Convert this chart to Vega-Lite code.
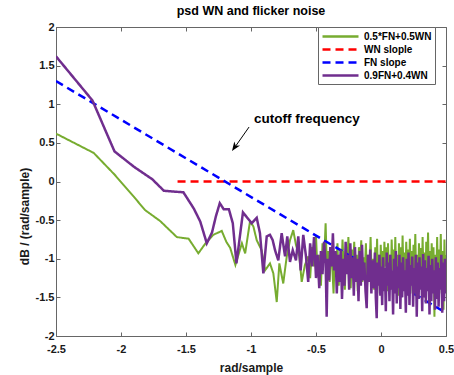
{
  "$schema": "https://vega.github.io/schema/vega-lite/v6.json",
  "width": 390,
  "height": 309,
  "autosize": "none",
  "padding": {"left": 56, "top": 27, "right": 8, "bottom": 39},
  "background": "white",
  "title": {"text": "psd WN and flicker noise", "font": "Liberation Sans", "fontSize": 12.5, "fontWeight": "bold", "color": "#000000", "offset": 4},
  "config": {
    "view": {"stroke": "#666666", "strokeWidth": 1},
    "axis": {"labelFont": "Liberation Sans", "labelFontSize": 11, "labelFontWeight": "bold", "labelColor": "#1a1a1a", "titleFont": "Liberation Sans", "titleFontSize": 12, "titleFontWeight": "bold", "titleColor": "#1a1a1a", "tickColor": "#666666", "domain": false, "grid": false, "tickSize": -4},
    "legend": {"labelFont": "Liberation Sans", "labelFontSize": 10, "labelFontWeight": "bold", "labelColor": "#000000"}
  },
  "datasets": {
    "g": [
      {"x": -2.5, "y": 0.62}, {"x": -2.21, "y": 0.37}, {"x": -2.05, "y": 0.09}, {"x": -1.9, "y": -0.2}, {"x": -1.815, "y": -0.37}, {"x": -1.7, "y": -0.51}, {"x": -1.57, "y": -0.72}, {"x": -1.48, "y": -0.74}, {"x": -1.405, "y": -0.93}, {"x": -1.354, "y": -0.81}, {"x": -1.29, "y": -0.69}, {"x": -1.225, "y": -0.64}, {"x": -1.19, "y": -0.78}, {"x": -1.16, "y": -0.86}, {"x": -1.12, "y": -1.08}, {"x": -1.07, "y": -0.8}, {"x": -1.045, "y": -0.93}, {"x": -1.008, "y": -0.52}, {"x": -0.982, "y": -0.58}, {"x": -0.956, "y": -0.76}, {"x": -0.918, "y": -0.89}, {"x": -0.892, "y": -1.15}, {"x": -0.854, "y": -1.06}, {"x": -0.828, "y": -1.19}, {"x": -0.802, "y": -1.56}, {"x": -0.782, "y": -1.06}, {"x": -0.752, "y": -1.32}, {"x": -0.725, "y": -0.97}, {"x": -0.7, "y": -0.76}, {"x": -0.675, "y": -0.63}, {"x": -0.654, "y": -0.82}, {"x": -0.628, "y": -0.97}, {"x": -0.61, "y": -1.3}, {"x": -0.585, "y": -1.08}, {"x": -0.559, "y": -0.97},
      {"x": -0.545, "y": -1.25}, {"x": -0.53, "y": -0.85}, {"x": -0.515, "y": -1.1}, {"x": -0.5, "y": -0.7}, {"x": -0.488, "y": -1.2}, {"x": -0.475, "y": -0.95}, {"x": -0.462, "y": -1.35}, {"x": -0.45, "y": -0.8}, {"x": -0.438, "y": -1.05}, {"x": -0.426, "y": -0.54}, {"x": -0.416, "y": -1.15}, {"x": -0.405, "y": -0.9}, {"x": -0.395, "y": -1.3}, {"x": -0.385, "y": -0.85}, {"x": -0.375, "y": -1.1}, {"x": -0.365, "y": -1.45}, {"x": -0.355, "y": -0.95}, {"x": -0.345, "y": -1.2}, {"x": -0.335, "y": -0.8}, {"x": -0.325, "y": -1.35}, {"x": -0.315, "y": -0.95}, {"x": -0.305, "y": -1.2}, {"x": -0.296, "y": -0.75}, {"x": -0.287, "y": -1.1}, {"x": -0.278, "y": -1.4}, {"x": -0.269, "y": -0.9}, {"x": -0.26, "y": -1.18}, {"x": -0.251, "y": -0.72}, {"x": -0.242, "y": -1.05}, {"x": -0.233, "y": -1.38}, {"x": -0.224, "y": -0.88}, {"x": -0.215, "y": -1.15}, {"x": -0.206, "y": -0.78}, {"x": -0.197, "y": -1.25}, {"x": -0.188, "y": -0.95}, {"x": -0.179, "y": -1.42}, {"x": -0.17, "y": -0.85}, {"x": -0.161, "y": -1.1}, {"x": -0.152, "y": -0.76}, {"x": -0.143, "y": -1.3}, {"x": -0.134, "y": -0.98}, {"x": -0.125, "y": -1.2}, {"x": -0.116, "y": -0.8}, {"x": -0.107, "y": -1.35}, {"x": -0.098, "y": -0.95}, {"x": -0.089, "y": -1.15}, {"x": -0.08, "y": -0.72}, {"x": -0.071, "y": -1.28}, {"x": -0.062, "y": -1.0}, {"x": -0.053, "y": -1.4}, {"x": -0.044, "y": -0.85}, {"x": -0.037, "y": -1.15}, {"x": -0.03, "y": -0.74}, {"x": -0.023, "y": -1.3}, {"x": -0.016, "y": -0.95}, {"x": -0.009, "y": -1.45}, {"x": -0.002, "y": -0.82}, {"x": 0.005, "y": -1.2}, {"x": 0.012, "y": -0.9}, {"x": 0.019, "y": -1.35}, {"x": 0.026, "y": -0.78}, {"x": 0.033, "y": -1.1}, {"x": 0.04, "y": -0.85}, {"x": 0.047, "y": -1.42}, {"x": 0.054, "y": -0.8}, {"x": 0.061, "y": -1.25}, {"x": 0.068, "y": -0.95}, {"x": 0.075, "y": -1.38}, {"x": 0.082, "y": -0.75}, {"x": 0.089, "y": -1.15}, {"x": 0.096, "y": -0.88}, {"x": 0.103, "y": -1.3}, {"x": 0.11, "y": -0.72}, {"x": 0.117, "y": -1.2}, {"x": 0.124, "y": -0.95}, {"x": 0.131, "y": -1.48}, {"x": 0.138, "y": -0.8}, {"x": 0.145, "y": -1.1}, {"x": 0.152, "y": -0.85}, {"x": 0.159, "y": -1.35}, {"x": 0.166, "y": -0.7}, {"x": 0.173, "y": -1.2}, {"x": 0.18, "y": -0.92}, {"x": 0.187, "y": -1.4}, {"x": 0.194, "y": -0.78}, {"x": 0.201, "y": -1.15}, {"x": 0.208, "y": -0.88}, {"x": 0.215, "y": -1.32}, {"x": 0.222, "y": -0.74}, {"x": 0.229, "y": -1.25}, {"x": 0.236, "y": -0.9}, {"x": 0.243, "y": -1.45}, {"x": 0.25, "y": -0.82}, {"x": 0.257, "y": -1.12}, {"x": 0.264, "y": -0.68}, {"x": 0.271, "y": -1.3}, {"x": 0.278, "y": -0.95}, {"x": 0.285, "y": -1.4}, {"x": 0.292, "y": -0.8}, {"x": 0.299, "y": -1.18}, {"x": 0.306, "y": -0.86}, {"x": 0.313, "y": -1.35}, {"x": 0.32, "y": -0.72}, {"x": 0.327, "y": -1.22}, {"x": 0.334, "y": -0.92}, {"x": 0.341, "y": -1.5}, {"x": 0.348, "y": -0.78}, {"x": 0.355, "y": -1.15}, {"x": 0.362, "y": -0.66}, {"x": 0.369, "y": -1.28}, {"x": 0.376, "y": -0.9}, {"x": 0.383, "y": -1.4}, {"x": 0.39, "y": -0.8}, {"x": 0.397, "y": -1.2}, {"x": 0.404, "y": -0.85}, {"x": 0.411, "y": -1.75}, {"x": 0.418, "y": -0.95}, {"x": 0.425, "y": -1.25}, {"x": 0.432, "y": -0.72}, {"x": 0.439, "y": -1.35}, {"x": 0.446, "y": -0.88}, {"x": 0.453, "y": -1.2}, {"x": 0.46, "y": -0.68}, {"x": 0.467, "y": -1.45}, {"x": 0.474, "y": -0.9}, {"x": 0.481, "y": -1.66}, {"x": 0.488, "y": -0.75}, {"x": 0.495, "y": -1.3}, {"x": 0.5, "y": -0.95}
    ],
    "p": [
      {"x": -2.5, "y": 1.62}, {"x": -2.22, "y": 1.05}, {"x": -2.05, "y": 0.39}, {"x": -1.9, "y": 0.19}, {"x": -1.76, "y": 0.03}, {"x": -1.67, "y": -0.12}, {"x": -1.52, "y": -0.14}, {"x": -1.44, "y": -0.35}, {"x": -1.39, "y": -0.52}, {"x": -1.34, "y": -0.8}, {"x": -1.3, "y": -0.66}, {"x": -1.27, "y": -0.45}, {"x": -1.24, "y": -0.28}, {"x": -1.21, "y": -0.36}, {"x": -1.17, "y": -0.36}, {"x": -1.14, "y": -0.54}, {"x": -1.112, "y": -1.06}, {"x": -1.062, "y": -0.4}, {"x": -1.033, "y": -0.46}, {"x": -0.995, "y": -0.54}, {"x": -0.956, "y": -0.47}, {"x": -0.931, "y": -0.67}, {"x": -0.905, "y": -1.19}, {"x": -0.879, "y": -0.71}, {"x": -0.854, "y": -0.69}, {"x": -0.833, "y": -0.76}, {"x": -0.815, "y": -0.89}, {"x": -0.79, "y": -1.02}, {"x": -0.764, "y": -0.67}, {"x": -0.738, "y": -0.97}, {"x": -0.721, "y": -0.71}, {"x": -0.7, "y": -1.04}, {"x": -0.679, "y": -0.89}, {"x": -0.654, "y": -1.02}, {"x": -0.636, "y": -0.71}, {"x": -0.618, "y": -1.15}, {"x": -0.598, "y": -0.69}, {"x": -0.577, "y": -0.97},
      {"x": -0.56, "y": -1.3}, {"x": -0.545, "y": -0.8}, {"x": -0.53, "y": -1.1}, {"x": -0.515, "y": -0.72}, {"x": -0.5, "y": -1.25}, {"x": -0.488, "y": -0.95}, {"x": -0.475, "y": -1.38}, {"x": -0.462, "y": -0.9}, {"x": -0.45, "y": -1.2}, {"x": -0.438, "y": -0.78}, {"x": -0.426, "y": -1.05}, {"x": -0.418, "y": -1.75}, {"x": -0.41, "y": -1.0}, {"x": -0.4, "y": -1.28}, {"x": -0.39, "y": -0.85}, {"x": -0.38, "y": -1.1}, {"x": -0.37, "y": -0.67}, {"x": -0.36, "y": -1.15}, {"x": -0.35, "y": -0.9}, {"x": -0.34, "y": -1.45}, {"x": -0.33, "y": -0.95}, {"x": -0.32, "y": -1.3}, {"x": -0.31, "y": -0.88}, {"x": -0.3, "y": -1.52}, {"x": -0.29, "y": -1.0}, {"x": -0.281, "y": -1.35}, {"x": -0.272, "y": -0.78}, {"x": -0.263, "y": -1.2}, {"x": -0.254, "y": -0.95}, {"x": -0.245, "y": -1.4}, {"x": -0.236, "y": -0.8}, {"x": -0.227, "y": -1.25}, {"x": -0.218, "y": -0.98}, {"x": -0.209, "y": -1.48}, {"x": -0.2, "y": -0.85}, {"x": -0.191, "y": -1.3}, {"x": -0.182, "y": -1.0}, {"x": -0.173, "y": -1.55}, {"x": -0.164, "y": -0.9}, {"x": -0.155, "y": -1.35}, {"x": -0.146, "y": -0.82}, {"x": -0.137, "y": -1.28}, {"x": -0.128, "y": -1.05}, {"x": -0.119, "y": -1.42}, {"x": -0.11, "y": -1.64}, {"x": -0.101, "y": -0.95}, {"x": -0.092, "y": -1.3}, {"x": -0.083, "y": -0.88}, {"x": -0.074, "y": -1.45}, {"x": -0.065, "y": -1.02}, {"x": -0.056, "y": -1.38}, {"x": -0.047, "y": -0.92}, {"x": -0.04, "y": -1.5}, {"x": -0.033, "y": -1.77}, {"x": -0.026, "y": -1.05}, {"x": -0.019, "y": -1.35}, {"x": -0.012, "y": -0.95}, {"x": -0.005, "y": -1.48}, {"x": 0.002, "y": -1.1}, {"x": 0.009, "y": -1.6}, {"x": 0.016, "y": -0.98}, {"x": 0.023, "y": -1.42}, {"x": 0.03, "y": -1.12}, {"x": 0.037, "y": -1.68}, {"x": 0.044, "y": -0.92}, {"x": 0.051, "y": -1.35}, {"x": 0.058, "y": -1.05}, {"x": 0.065, "y": -1.55}, {"x": 0.072, "y": -0.95}, {"x": 0.079, "y": -1.4}, {"x": 0.086, "y": -1.15}, {"x": 0.093, "y": -1.72}, {"x": 0.1, "y": -1.0}, {"x": 0.107, "y": -1.45}, {"x": 0.114, "y": -0.9}, {"x": 0.121, "y": -1.58}, {"x": 0.128, "y": -1.1}, {"x": 0.135, "y": -1.38}, {"x": 0.142, "y": -0.95}, {"x": 0.149, "y": -1.65}, {"x": 0.156, "y": -1.05}, {"x": 0.163, "y": -1.5}, {"x": 0.17, "y": -0.98}, {"x": 0.177, "y": -1.42}, {"x": 0.184, "y": -1.15}, {"x": 0.191, "y": -1.7}, {"x": 0.198, "y": -1.0}, {"x": 0.205, "y": -1.48}, {"x": 0.212, "y": -0.92}, {"x": 0.219, "y": -1.6}, {"x": 0.226, "y": -1.08}, {"x": 0.233, "y": -1.35}, {"x": 0.24, "y": -0.97}, {"x": 0.247, "y": -1.62}, {"x": 0.254, "y": -1.12}, {"x": 0.261, "y": -1.45}, {"x": 0.268, "y": -0.95}, {"x": 0.275, "y": -1.75}, {"x": 0.282, "y": -1.05}, {"x": 0.289, "y": -1.52}, {"x": 0.296, "y": -0.98}, {"x": 0.303, "y": -1.4}, {"x": 0.31, "y": -1.1}, {"x": 0.317, "y": -1.68}, {"x": 0.324, "y": -0.94}, {"x": 0.331, "y": -1.5}, {"x": 0.338, "y": -1.02}, {"x": 0.345, "y": -1.58}, {"x": 0.352, "y": -1.12}, {"x": 0.359, "y": -1.42}, {"x": 0.366, "y": -0.96}, {"x": 0.373, "y": -1.72}, {"x": 0.38, "y": -1.08}, {"x": 0.387, "y": -1.55}, {"x": 0.394, "y": -1.0}, {"x": 0.401, "y": -1.45}, {"x": 0.408, "y": -1.15}, {"x": 0.415, "y": -1.66}, {"x": 0.422, "y": -0.98}, {"x": 0.429, "y": -1.52}, {"x": 0.436, "y": -1.05}, {"x": 0.443, "y": -1.62}, {"x": 0.45, "y": -1.12}, {"x": 0.457, "y": -1.4}, {"x": 0.464, "y": -0.95}, {"x": 0.471, "y": -1.7}, {"x": 0.478, "y": -1.05}, {"x": 0.485, "y": -1.55}, {"x": 0.492, "y": -1.0}, {"x": 0.5, "y": -1.45}
    ],
    "r": [{"x": -1.565, "y": 0}, {"x": 0.5, "y": 0}],
    "b": [{"x": -2.5, "y": 1.3}, {"x": 0.5, "y": -1.7}],
    "ann": [{"x": -0.977, "y": 0.757, "label": "cutoff frequency"}],
    "arrow": [{"x": -1.015, "y": 0.705, "x2": -1.13, "y2": 0.43}],
    "head": [{"x": -1.124, "y": 0.448}]
  },
  "resolve": {"axis": {"x": "independent", "y": "independent"}},
  "layer": [
    {
      "data": {"name": "g"},
      "mark": {"type": "line", "strokeWidth": 2, "clip": true},
      "encoding": {
        "x": {"field": "x", "type": "quantitative", "scale": {"domain": [-2.5, 0.5], "nice": false, "zero": false}, "axis": {"orient": "bottom", "title": "rad/sample", "values": [-2.5, -2, -1.5, -1, -0.5, 0, 0.5], "labelExpr": "toString(datum.value)", "labelPadding": 11, "titlePadding": 8, "labelFlush": false}},
        "y": {"field": "y", "type": "quantitative", "scale": {"domain": [-2, 2], "nice": false, "zero": false}, "axis": {"orient": "left", "title": "dB / (rad/sample)", "values": [-2, -1.5, -1, -0.5, 0, 0.5, 1, 1.5, 2], "labelExpr": "toString(datum.value)", "labelPadding": 6, "titlePadding": 4, "titleY": 189, "labelFlush": false}},
        "color": {"datum": "0.5*FN+0.5WN", "type": "nominal", "scale": {"domain": ["0.5*FN+0.5WN", "WN slople", "FN slope", "0.9FN+0.4WN"], "range": ["#77AC30", "#FF0000", "#0000FF", "#702E8E"]}, "legend": {"orient": "none", "legendX": 262, "legendY": 0, "title": null, "symbolType": "M-1,0H6.2", "symbolSize": 100, "symbolStrokeWidth": 2.5, "fillColor": "white", "strokeColor": "#666666", "padding": 3, "rowPadding": 1, "labelOffset": 30}},
        "strokeDash": {"datum": "0.5*FN+0.5WN", "type": "nominal", "scale": {"domain": ["0.5*FN+0.5WN", "WN slople", "FN slope", "0.9FN+0.4WN"], "range": [[1, 0], [8, 5], [8, 5], [1, 0]]}, "legend": null}
      }
    },
    {
      "data": {"name": "r"},
      "mark": {"type": "line", "strokeWidth": 2.5, "clip": true},
      "encoding": {
        "x": {"field": "x", "type": "quantitative", "axis": {"orient": "top", "labels": false, "title": null, "values": [-2.5, -2, -1.5, -1, -0.5, 0, 0.5]}},
        "y": {"field": "y", "type": "quantitative", "axis": {"orient": "right", "labels": false, "title": null, "values": [-2, -1.5, -1, -0.5, 0, 0.5, 1, 1.5, 2]}},
        "color": {"datum": "WN slople", "type": "nominal"},
        "strokeDash": {"datum": "WN slople", "type": "nominal"}
      }
    },
    {
      "data": {"name": "b"},
      "mark": {"type": "line", "strokeWidth": 2.5, "clip": true},
      "encoding": {
        "x": {"field": "x", "type": "quantitative", "axis": null},
        "y": {"field": "y", "type": "quantitative", "axis": null},
        "color": {"datum": "FN slope", "type": "nominal"},
        "strokeDash": {"datum": "FN slope", "type": "nominal"}
      }
    },
    {
      "data": {"name": "p"},
      "mark": {"type": "line", "strokeWidth": 2.5, "clip": true},
      "encoding": {
        "x": {"field": "x", "type": "quantitative", "axis": null},
        "y": {"field": "y", "type": "quantitative", "axis": null},
        "color": {"datum": "0.9FN+0.4WN", "type": "nominal"},
        "strokeDash": {"datum": "0.9FN+0.4WN", "type": "nominal"}
      }
    },
    {
      "data": {"name": "ann"},
      "mark": {"type": "text", "font": "Liberation Sans", "fontSize": 13.5, "fontWeight": "bold", "align": "left", "baseline": "alphabetic", "color": "#000000"},
      "encoding": {
        "x": {"field": "x", "type": "quantitative", "axis": null},
        "y": {"field": "y", "type": "quantitative", "axis": null},
        "text": {"field": "label"}
      }
    },
    {
      "data": {"name": "arrow"},
      "mark": {"type": "rule", "color": "#000000", "strokeWidth": 1},
      "encoding": {
        "x": {"field": "x", "type": "quantitative", "axis": null},
        "y": {"field": "y", "type": "quantitative", "axis": null},
        "x2": {"field": "x2"},
        "y2": {"field": "y2"}
      }
    },
    {
      "data": {"name": "head"},
      "mark": {"type": "point", "shape": "M0,-1L0.7,0.8L0,0.3L-0.7,0.8Z", "filled": true, "color": "#000000", "size": 100, "angle": 215, "opacity": 1},
      "encoding": {
        "x": {"field": "x", "type": "quantitative", "axis": null},
        "y": {"field": "y", "type": "quantitative", "axis": null}
      }
    }
  ]
}
